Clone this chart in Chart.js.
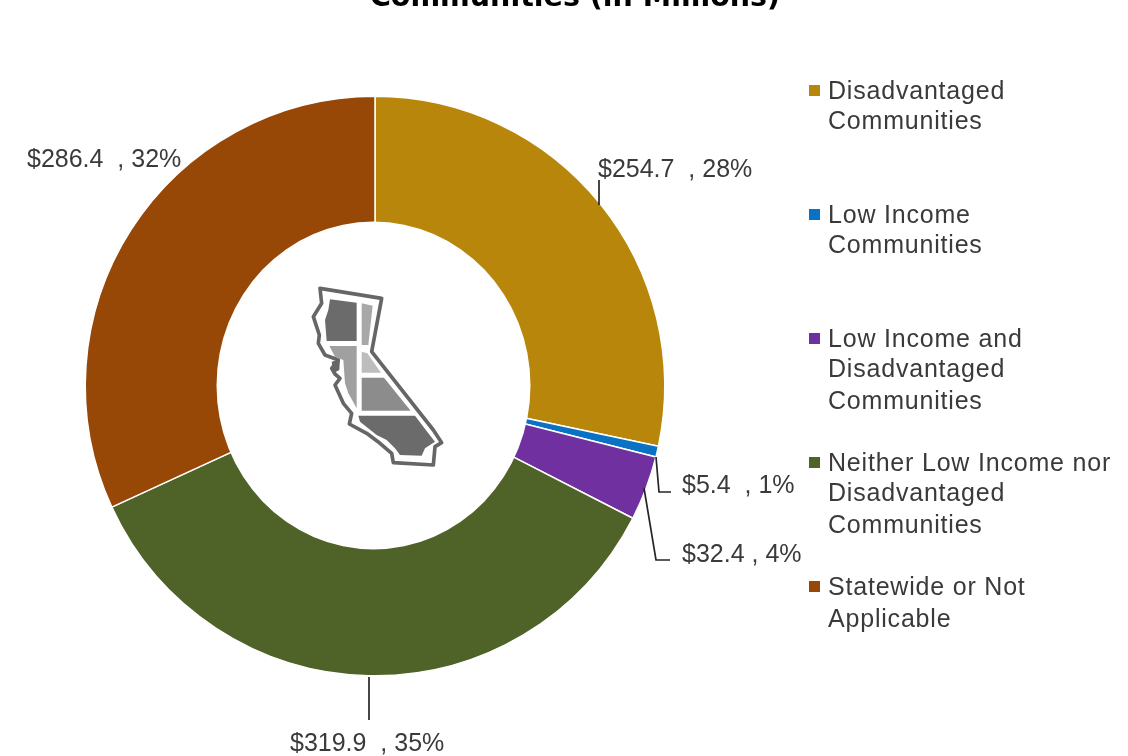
<!DOCTYPE html>
<html><head><meta charset="utf-8">
<style>html,body{margin:0;padding:0;background:#fff}#w{width:1128px;height:756px;position:relative}</style>
<script src="https://cdn.jsdelivr.net/npm/chart.js@4"></script></head>
<body><div id="w"><canvas id="c" width="1128" height="756"></canvas></div>
<script>
const categories = ["Disadvantaged Communities","Low Income Communities","Low Income and Disadvantaged Communities","Neither Low Income nor Disadvantaged Communities","Statewide or Not Applicable"];
const values = [254.7,5.4,32.4,319.9,286.4];
const percents = [28,1,4,35,32];
const colors = ["#b8860b","#0a72c4","#7030a0","#4f6228","#974706"];
const legendLines = [["Disadvantaged","Communities"],["Low Income","Communities"],["Low Income and","Disadvantaged","Communities"],["Neither Low Income nor","Disadvantaged","Communities"],["Statewide or Not","Applicable"]];
const titleText = "Communities (in Millions)";

const FONT = '25px "Liberation Sans", Arial, sans-serif';
const TXT = "#3a3a3a";

const overlay = {
  id:"overlay",
  afterDatasetsDraw(chart){
    // the hole of the ring is slightly taller than it is wide
    const ctx = chart.ctx, a = chart.getDatasetMeta(0).data[0];
    ctx.save();
    ctx.fillStyle="#fff";
    ctx.beginPath();
    ctx.ellipse(a.x-1.5,a.y-0.5,157,164,0,0,Math.PI*2);
    ctx.fill();
    ctx.restore();
  },
  afterDraw(chart){
    const ctx = chart.ctx;
    ctx.save();
    // title (cut by the top edge)
    ctx.fillStyle="#000";
    ctx.font='bold 28.5px "DejaVu Sans", sans-serif';
    ctx.textAlign="center";ctx.textBaseline="alphabetic";
    ctx.fillText(titleText,575,6);
    ctx.filter="blur(0.4px)";
    // data labels
    ctx.font=FONT;ctx.fillStyle=TXT;ctx.textAlign="left";ctx.textBaseline="middle";
    ctx.letterSpacing="0px";
    const labelPos=[[598,170],[682,486],[682,555],[290,744],[27,160]];
    values.forEach((v,i)=>{
      const sep = i===2 ? " , " : "  , ";
      ctx.fillText("$"+v.toFixed(1)+sep+percents[i]+"%",labelPos[i][0],labelPos[i][1]);
    });
    // leader lines
    ctx.strokeStyle="#262626";ctx.lineWidth=1.7;
    [[[599,180],[599,205]],[[656,457],[659,492],[671,492]],[[644,488],[656,560],[670,560]],[[369,677],[369,720]]].forEach(l=>{
      ctx.beginPath();l.forEach((p,j)=>j?ctx.lineTo(p[0],p[1]):ctx.moveTo(p[0],p[1]));ctx.stroke();
    });
    // legend
    const rowY=[[92,122],[216,246],[340,370,402],[464,494,526],[588,620]];
    ctx.letterSpacing="0.8px";
    legendLines.forEach((lines,i)=>{
      ctx.fillStyle=colors[i];
      ctx.fillRect(809,rowY[i][0]-7,11,11);
      ctx.fillStyle=TXT;
      lines.forEach((t,j)=>ctx.fillText(t,828,rowY[i][j]));
    });
    ctx.letterSpacing="0px";
    // California emblem
    const pt=a=>{ctx.beginPath();a.forEach((p,j)=>j?ctx.lineTo(p[0],p[1]):ctx.moveTo(p[0],p[1]));ctx.closePath();};
    ctx.translate(280,270);ctx.scale(1/3,1/3);
    ctx.lineJoin="round";
    ctx.filter="blur(0.5px)";
    pt([[120,55],[305,85],[275,245],[460,480],[485,518],[465,530],[460,585],[340,578],[335,550],[300,520],[260,490],[208,462],[215,430],[190,400],[165,345],[180,325],[165,312],[155,295],[175,270],[135,255],[115,220],[118,195],[100,140],[125,100]]);
    ctx.fillStyle="#fff";ctx.fill();ctx.strokeStyle="#666";ctx.lineWidth=11;ctx.stroke();
    [
      ["#6b6b6b",[[150,88],[230,98],[230,213],[140,213],[135,150],[145,120]]],
      ["#a8a8a8",[[245,100],[278,107],[265,225],[245,225]]],
      ["#a0a0a0",[[148,228],[230,228],[230,415],[205,370],[195,340],[190,270],[165,260]]],
      ["#bdbdbd",[[245,245],[262,250],[303,308],[245,308]]],
      ["#8c8c8c",[[245,323],[312,323],[392,422],[245,422]]],
      ["#6b6b6b",[[235,437],[405,437],[445,490],[465,515],[435,535],[425,557],[360,555],[345,535],[320,510],[290,495],[240,455]]],
      ["#666",[[155,275],[180,268],[178,300],[160,310]]]
    ].forEach(r=>{pt(r[1]);ctx.fillStyle=r[0];ctx.fill();});
    ctx.restore();
  }
};

new Chart(document.getElementById("c"),{
  type:"doughnut",
  data:{labels:categories,datasets:[{data:values,backgroundColor:colors,borderColor:"#fff",borderWidth:1.5,borderAlign:"center"}]},
  options:{
    responsive:false,animation:false,cutout:"50%",
    layout:{padding:{left:84.5,right:462.5,top:95.5,bottom:79.5}},
    plugins:{legend:{display:false},tooltip:{enabled:false},title:{display:false}}
  },
  plugins:[overlay]
});
</script></body></html>
